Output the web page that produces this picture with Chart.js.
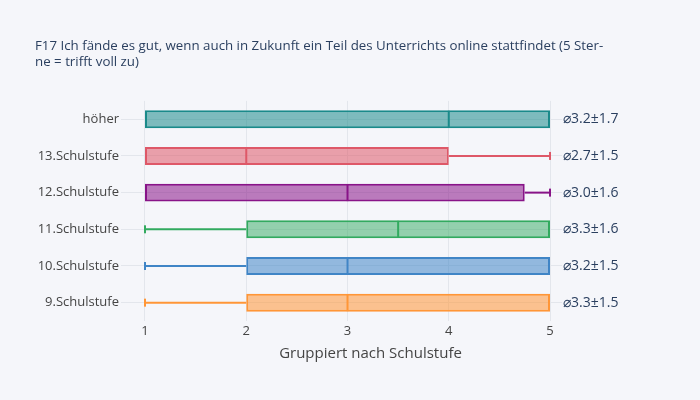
<!DOCTYPE html>
<html>
<head>
<meta charset="utf-8">
<script src="https://cdn.jsdelivr.net/npm/chart.js@4.4.1/dist/chart.umd.min.js"></script>
<style>
  html, body { margin: 0; padding: 0; background: #f5f6fa; }
  #wrap { width: 700px; height: 400px; }
</style>
</head>
<body>
<div id="wrap"><canvas id="c" width="700" height="400"></canvas></div>
<script>
const titleLines = ['F17 Ich fände es gut, wenn auch in Zukunft ein Teil des Unterrichts online stattfindet (5 Ster-', 'ne = trifft voll zu)'];
const xAxisTitle = 'Gruppiert nach Schulstufe';
const categories = ['höher', '13.Schulstufe', '12.Schulstufe', '11.Schulstufe', '10.Schulstufe', '9.Schulstufe'];
const mins    = [1, 1, 1, 1, 1, 1];
const q1s     = [1, 1, 1, 2, 2, 2];
const medians = [4, 2, 3, 3.5, 3, 3];
const q3s     = [5, 4, 4.75, 5, 5, 5];
const maxs    = [5, 5, 5, 5, 5, 5];
const summaries = ['⌀3.2±1.7', '⌀2.7±1.5', '⌀3.0±1.6', '⌀3.3±1.6', '⌀3.2±1.5', '⌀3.3±1.5'];
const xTicks = [1, 2, 3, 4, 5];
const lineColors = ['rgb(26,138,138)', 'rgb(222,88,104)', 'rgb(136,20,136)', 'rgb(50,170,95)', 'rgb(64,133,198)', 'rgb(255,150,55)'];
const fillColors = ['rgba(26,138,138,0.55)', 'rgba(222,88,104,0.55)', 'rgba(136,20,136,0.55)', 'rgba(50,170,95,0.5)', 'rgba(64,133,198,0.55)', 'rgba(255,150,55,0.55)'];

const boxes = categories.map((c, i) => [q1s[i], q3s[i]]);

const whiskerPlugin = {
  id: 'whiskers',
  afterDatasetsDraw(chart) {
    const ctx = chart.ctx;
    const xs = chart.scales.x, ys = chart.scales.y;
    ctx.save();
    categories.forEach((c, i) => {
      const y = ys.getPixelForValue(i);
      ctx.strokeStyle = lineColors[i];
      ctx.lineWidth = 2;
      const half = 8.5;
      const xm = xs.getPixelForValue(medians[i]);
      ctx.beginPath(); ctx.moveTo(xm, y - half); ctx.lineTo(xm, y + half); ctx.stroke();
      if (mins[i] < q1s[i]) {
        const a = xs.getPixelForValue(mins[i]), b = xs.getPixelForValue(q1s[i]);
        ctx.beginPath(); ctx.moveTo(a, y); ctx.lineTo(b, y); ctx.stroke();
        ctx.beginPath(); ctx.moveTo(a, y - 4); ctx.lineTo(a, y + 4); ctx.stroke();
      }
      if (maxs[i] > q3s[i]) {
        const a = xs.getPixelForValue(q3s[i]), b = xs.getPixelForValue(maxs[i]);
        ctx.beginPath(); ctx.moveTo(a, y); ctx.lineTo(b, y); ctx.stroke();
        ctx.beginPath(); ctx.moveTo(b, y - 4); ctx.lineTo(b, y + 4); ctx.stroke();
      }
    });
    ctx.font = '14px "Open Sans"';
    ctx.textAlign = 'left';
    ctx.textBaseline = 'middle';
    const xa = xs.getPixelForValue(maxs[0]) + 13;
    summaries.forEach((s, i) => {
      const y = ys.getPixelForValue(i);
      const w = ctx.measureText(s).width;
      ctx.fillStyle = '#f5f6fa';
      ctx.fillRect(xa - 1, y - 3, w + 2, 6);
      ctx.fillStyle = '#2a3f5f';
      ctx.fillText(s, xa, y);
    });
    ctx.restore();
  }
};

new Chart(document.getElementById('c'), {
  type: 'bar',
  data: {
    labels: categories,
    datasets: [{
      data: boxes,
      backgroundColor: fillColors,
      borderColor: lineColors,
      borderWidth: 2,
      borderSkipped: false,
      categoryPercentage: 1,
      barPercentage: 0.49,
      yAxisID: 'y'
    }]
  },
  plugins: [whiskerPlugin],
  options: {
    indexAxis: 'y',
    responsive: false,
    animation: false,
    layout: { padding: { left: 35, top: 38, right: 80, bottom: 0 } },
    plugins: {
      legend: { display: false },
      tooltip: { enabled: false },
      title: {
        display: true,
        text: titleLines,
        align: 'start',
        color: '#2a3f5f',
        font: { family: 'Open Sans', size: 13.3, weight: 'normal', lineHeight: 1.2 },
        padding: { top: 0, bottom: 31 }
      }
    },
    scales: {
      x: {
        type: 'linear',
        min: 0.763,
        max: 5.691,
        afterBuildTicks(scale) { scale.ticks = xTicks.map(v => ({ value: v })); },
        afterFit(scale) { scale.height = 79; },
        grid: { color: '#e3e6ec', drawTicks: false },
        border: { display: false },
        ticks: { color: '#444', font: { family: 'Open Sans', size: 13 }, padding: 2 },
        title: {
          display: true,
          text: xAxisTitle,
          color: '#444',
          font: { family: 'Open Sans', size: 15 },
          padding: { top: 4, bottom: 37 }
        }
      },
      y: {
        type: 'category',
        position: 'left',
        offset: true,
        afterFit(scale) { scale.width = 86; },
        grid: { color: '#e3e6ec', drawTicks: false, offset: false },
        border: { display: false },
        ticks: { color: '#444', font: { family: 'Open Sans', size: 13 }, padding: 2 }
      }
    }
  }
});
</script>
</body>
</html>
